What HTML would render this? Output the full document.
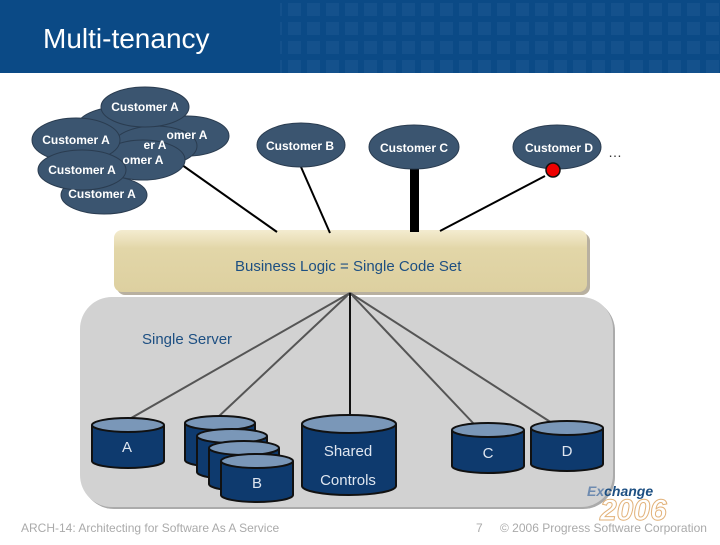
<!DOCTYPE html>
<html><head><style>
body{margin:0;width:720px;height:540px;overflow:hidden;background:#fff;font-family:"Liberation Sans",sans-serif}
</style></head><body>
<svg width="720" height="540" xmlns="http://www.w3.org/2000/svg" font-family="Liberation Sans, sans-serif">
<defs>
<linearGradient id="bl" x1="0" y1="0" x2="0" y2="1"><stop offset="0" stop-color="#f4ecd0"/><stop offset="0.3" stop-color="#e2d6a8"/><stop offset="1" stop-color="#ddd0a0"/></linearGradient>
<pattern id="sq" width="19" height="19" patternUnits="userSpaceOnUse"><rect x="3" y="3" width="13" height="13" fill="#1a5690"/></pattern>
</defs>
<rect x="0" y="0" width="720" height="73" fill="#0b4a86"/>
<rect x="280" y="0" width="440" height="73" fill="url(#sq)" opacity="0.6"/>
<text x="43" y="48" font-size="28" fill="#fff">Multi-tenancy</text>

<!-- server box -->
<rect x="82" y="299" width="533" height="210" rx="32" fill="#ababab"/>
<rect x="80" y="297" width="533" height="210" rx="32" fill="#d2d2d2"/>
<text x="142" y="344" font-size="15" fill="#1d4f82">Single Server</text>
<!-- business logic -->
<rect x="117" y="233" width="473" height="62" rx="8" fill="#b8b0a0"/>
<rect x="114" y="230" width="473" height="62" rx="8" fill="url(#bl)"/>
<text x="235" y="271" font-size="15" fill="#1d4f82">Business Logic = Single Code Set</text>

<!-- server lines -->
<g stroke="#555" stroke-width="2">
<line x1="350" y1="293" x2="126" y2="421"/>
<line x1="350" y1="293" x2="217" y2="418"/>
<line x1="350" y1="293" x2="474" y2="424"/>
<line x1="350" y1="293" x2="552" y2="423"/>
</g>
<line x1="350" y1="293" x2="350" y2="416" stroke="#111" stroke-width="2"/>

<!-- top lines -->
<g stroke="#000" stroke-width="2">
<line x1="175" y1="160" x2="277" y2="232"/>
<line x1="301" y1="167" x2="330" y2="233"/>
<line x1="545" y1="176" x2="440" y2="231"/>
</g>
<rect x="410" y="168" width="9" height="64" fill="#000"/>

<g id="cyl">
</g>
<g stroke="#111" stroke-width="2">
<!-- A -->
<path d="M92,425 V461 A36,7 0 0 0 164,461 V425" fill="#0e3a6e"/><ellipse cx="128" cy="425" rx="36" ry="7" fill="#7a97b8"/>
<!-- B stack -->
<path d="M185,423 V460 A35,7 0 0 0 255,460 V423" fill="#0e3a6e"/><ellipse cx="220" cy="423" rx="35" ry="7" fill="#7a97b8"/>
<path d="M197,436 V472 A35,7 0 0 0 267,472 V436" fill="#0e3a6e"/><ellipse cx="232" cy="436" rx="35" ry="7" fill="#7a97b8"/>
<path d="M209,448 V484 A35,7 0 0 0 279,484 V448" fill="#0e3a6e"/><ellipse cx="244" cy="448" rx="35" ry="7" fill="#7a97b8"/>
<path d="M221,461 V495 A36,7 0 0 0 293,495 V461" fill="#0e3a6e"/><ellipse cx="257" cy="461" rx="36" ry="7" fill="#7a97b8"/>
<!-- shared -->
<path d="M302,424 V486 A47,9 0 0 0 396,486 V424" fill="#0e3a6e"/><ellipse cx="349" cy="424" rx="47" ry="9" fill="#7a97b8"/>
<!-- C -->
<path d="M452,430 V466 A36,7 0 0 0 524,466 V430" fill="#0e3a6e"/><ellipse cx="488" cy="430" rx="36" ry="7" fill="#7a97b8"/>
<!-- D -->
<path d="M531,428 V464 A36,7 0 0 0 603,464 V428" fill="#0e3a6e"/><ellipse cx="567" cy="428" rx="36" ry="7" fill="#7a97b8"/>
</g>
<g fill="#dfe6f0" font-size="15" text-anchor="middle">
<text x="127" y="452">A</text>
<text x="257" y="488">B</text>
<text x="348" y="456">Shared</text>
<text x="348" y="485">Controls</text>
<text x="488" y="458">C</text>
<text x="567" y="456">D</text>
</g>

<!-- customer ellipses -->
<g fill="#3b5570" stroke="#2a3c50" stroke-width="1">
<ellipse cx="104" cy="195" rx="43" ry="19"/>
<ellipse cx="187" cy="136" rx="42" ry="20"/>
<ellipse cx="120" cy="127" rx="43" ry="20"/>
<ellipse cx="155" cy="146" rx="42" ry="20"/>
<ellipse cx="143" cy="160" rx="42" ry="20"/>
<ellipse cx="145" cy="107" rx="44" ry="20"/>
<ellipse cx="76" cy="140" rx="44" ry="22"/>
<ellipse cx="82" cy="170" rx="44" ry="20"/>
<ellipse cx="301" cy="145" rx="44" ry="22"/>
<ellipse cx="414" cy="147" rx="45" ry="22"/>
<ellipse cx="557" cy="147" rx="44" ry="22"/>
</g>
<g fill="#fff" font-size="12" font-weight="bold" text-anchor="middle">
<text x="102" y="198">Customer A</text>
<text x="187" y="139">omer A</text>
<text x="155" y="149">er A</text>
<text x="143" y="164">omer A</text>
<text x="145" y="111">Customer A</text>
<text x="76" y="144">Customer A</text>
<text x="82" y="174">Customer A</text>
<text x="300" y="150">Customer B</text>
<text x="414" y="152">Customer C</text>
<text x="559" y="152">Customer D</text>
</g>
<circle cx="553" cy="170" r="7" fill="#e00" stroke="#111" stroke-width="1.5"/>
<text x="608" y="157" font-size="14" fill="#333">…</text>

<!-- footer -->
<text x="21" y="532" font-size="12" fill="#aaa">ARCH-14: Architecting for Software As A Service</text>
<text x="476" y="532" font-size="12" fill="#aaa">7</text>
<text x="500" y="532" font-size="12" fill="#aaa">© 2006 Progress Software Corporation</text>
<text x="587" y="496" font-size="14" font-weight="bold" font-style="italic" fill="#6e8bb0">Ex<tspan fill="#1d4f82">change</tspan></text>
<text x="600" y="520" font-size="30" font-style="italic" font-weight="bold" fill="none" stroke="#e2b27a" stroke-width="1">2006</text>
</svg>
</body></html>
